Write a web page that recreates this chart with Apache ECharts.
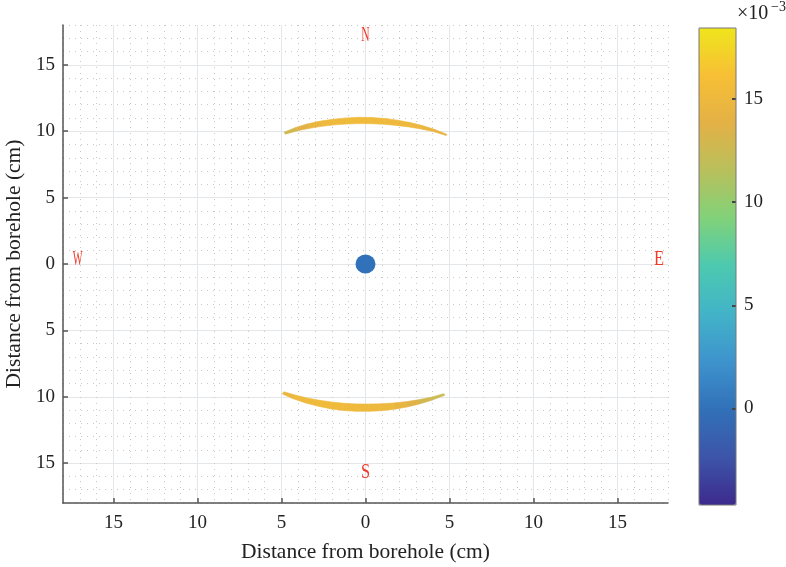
<!DOCTYPE html>
<html><head><meta charset="utf-8">
<script src="https://cdn.jsdelivr.net/npm/echarts@6/dist/echarts.min.js"></script>
<style>html,body{margin:0;padding:0;background:#fff}#c{width:786px;height:567px}</style>
</head><body><div id="c"></div>
<script>
// ---- data ----
const xTicks = [-15, -10, -5, 0, 5, 10, 15];
const yTicks = [-15, -10, -5, 0, 5, 10, 15];
const cbTicks = [0, 5, 10, 15];
const cbMin = -4.69, cbMax = 18.45;   // ×10^-3

// North crescent (polar: angle in degrees, radii in cm, strain ×10^-3)
const northAngle = [116, 112, 108, 104, 100, 96, 92, 88, 84, 80, 76, 72, 68, 63.6];
const northOuter = [11.05, 11.09, 11.1, 11.09, 11.07, 11.06, 11.05, 11.04, 11.02, 11.0, 10.98, 10.96, 10.94, 10.9];
const northInner = [10.88, 10.82, 10.75, 10.69, 10.64, 10.6, 10.58, 10.57, 10.58, 10.6, 10.64, 10.69, 10.76, 10.8];
const northValue = [12.3, 13.3, 14.3, 15.0, 15.2, 15.3, 15.3, 15.3, 15.2, 15.1, 15.0, 14.8, 14.5, 14.2];

// South crescent
const southAngle = [243.2, 247, 251, 255, 259, 263, 267, 271, 275, 279, 283, 287, 291, 295.5];
const southOuter = [10.97, 11.02, 11.06, 11.08, 11.1, 11.11, 11.11, 11.1, 11.09, 11.07, 11.05, 11.02, 10.99, 10.96];
const southInner = [10.78, 10.72, 10.67, 10.62, 10.59, 10.57, 10.55, 10.55, 10.57, 10.6, 10.64, 10.7, 10.76, 10.82];
const southValue = [14.5, 15.0, 15.2, 15.3, 15.4, 15.3, 15.2, 15.1, 15.0, 14.8, 14.2, 13.2, 12.6, 12.4];

// Borehole [x, y, value]
const borehole = [[0, 0, 0]];

// Compass letters
const compassText = ['N', 'W', 'E', 'S'];
const compassX = [0, -17.13, 17.46, 0];
const compassY = [17.24, 0.32, 0.35, -15.7];

// ---- build ----
function segments(ang, inn, out, val) {
  const d = [];
  for (let i = 0; i < ang.length - 1; i++) {
    d.push([ang[i], ang[i + 1], (val[i] + val[i + 1]) / 2, inn[i], out[i], inn[i + 1], out[i + 1]]);
  }
  return d;
}
const arcData = segments(northAngle, northInner, northOuter, northValue)
  .concat(segments(southAngle, southInner, southOuter, southValue));
const compassData = compassText.map((t, i) => [compassX[i], compassY[i], i]);

const FONT = '"Liberation Serif", "Times New Roman", serif';
const parula = ['#3d2a8c', '#3d55a8', '#3170b8', '#3e93cd', '#42b3c8', '#4cc9b0',
                '#80d27a', '#b8c05c', '#e3b146', '#f7bf35', '#efe51c'];
const squeeze = { N: 0.55, W: 0.5, E: 0.78, S: 0.78 };

const chart = echarts.init(document.getElementById('c'), null, { renderer: 'canvas' });
chart.setOption({
  animation: false,
  backgroundColor: '#fff',
  grid: [
    { left: 63, top: 25, width: 605, height: 478, outerBoundsMode: 'none', containLabel: false },
    { left: 699, top: 28, width: 37, height: 477, outerBoundsMode: 'none', containLabel: false }
  ],
  xAxis: [
    { gridIndex: 0, type: 'value', min: -18, max: 18, interval: 1,
      axisLine: { show: false }, axisTick: { show: false }, axisLabel: { show: false },
      splitLine: { show: true, lineStyle: { color: '#c8c8c8', width: 1, type: [1, 5] } } },
    { gridIndex: 0, type: 'value', min: -18, max: 18, position: 'bottom',
      axisLine: { show: true, onZero: false, lineStyle: { color: '#555', width: 1.5 } },
      axisTick: { show: true, inside: true, length: 5, customValues: xTicks, lineStyle: { color: '#555', width: 1.5 } },
      axisLabel: { customValues: xTicks, formatter: v => String(Math.abs(v)), margin: 11,
                   fontFamily: FONT, fontSize: 19, color: '#222' },
      splitLine: { show: true, lineStyle: { color: '#e3e7ea', width: 1 } },
      name: 'Distance from borehole (cm)', nameLocation: 'middle', nameGap: 38,
      nameTextStyle: { fontFamily: FONT, fontSize: 21.5, color: '#222' } },
    { gridIndex: 1, type: 'value', min: 0, max: 1, show: false }
  ],
  yAxis: [
    { gridIndex: 0, type: 'value', min: -18, max: 18, interval: 1,
      axisLine: { show: false }, axisTick: { show: false }, axisLabel: { show: false },
      splitLine: { show: true, lineStyle: { color: '#c8c8c8', width: 1, type: [1, 5] } } },
    { gridIndex: 0, type: 'value', min: -18, max: 18, position: 'left',
      axisLine: { show: true, onZero: false, lineStyle: { color: '#555', width: 1.5 } },
      axisTick: { show: true, inside: true, length: 5, customValues: yTicks, lineStyle: { color: '#555', width: 1.5 } },
      axisLabel: { customValues: yTicks, formatter: v => String(Math.abs(v)), margin: 8,
                   fontFamily: FONT, fontSize: 19, color: '#222' },
      splitLine: { show: true, lineStyle: { color: '#e3e7ea', width: 1 } },
      name: 'Distance from borehole (cm)', nameLocation: 'middle', nameGap: 36,
      nameTextStyle: { fontFamily: FONT, fontSize: 21.5, color: '#222' } },
    { gridIndex: 1, type: 'value', min: cbMin, max: cbMax, position: 'right', z: 20,
      axisLine: { show: false, onZero: false },
      axisTick: { show: true, inside: true, length: 4, customValues: cbTicks, lineStyle: { color: '#444', width: 2 } },
      axisLabel: { customValues: cbTicks, margin: 8, fontFamily: FONT, fontSize: 19, color: '#222' },
      splitLine: { show: false } }
  ],
  visualMap: {
    type: 'continuous', min: cbMin, max: cbMax, dimension: 2,
    seriesIndex: [0, 1], calculable: false, text: null, realtime: false, hoverLink: false,
    left: 699, top: 28, itemWidth: 37, itemHeight: 477, padding: 0,
    inRange: { color: parula }
  },
  graphic: [
    { type: 'rect', z: 100, shape: { x: 699, y: 28, width: 37, height: 477 },
      style: { fill: 'none', stroke: '#777', lineWidth: 1 } },
    { type: 'text', z: 100, left: 737, top: 4, style: { text: '×10', font: '20px ' + FONT, fill: '#222' } },
    { type: 'text', z: 100, left: 771, top: 0, style: { text: '−3', font: '14px ' + FONT, fill: '#222' } }
  ],
  series: [
    { type: 'custom', xAxisIndex: 1, yAxisIndex: 1, data: arcData, z: 5,
      renderItem: function (params, api) {
        const a0 = api.value(0) * Math.PI / 180, a1 = api.value(1) * Math.PI / 180;
        const ri0 = api.value(3), ro0 = api.value(4), ri1 = api.value(5), ro1 = api.value(6);
        const pts = [
          [ri0 * Math.cos(a0), ri0 * Math.sin(a0)],
          [ro0 * Math.cos(a0), ro0 * Math.sin(a0)],
          [ro1 * Math.cos(a1), ro1 * Math.sin(a1)],
          [ri1 * Math.cos(a1), ri1 * Math.sin(a1)]
        ].map(p => api.coord(p));
        const c = api.visual('color');
        return { type: 'polygon', shape: { points: pts }, style: { fill: c, stroke: c, lineWidth: 0.6 } };
      } },
    { type: 'scatter', xAxisIndex: 1, yAxisIndex: 1, data: borehole, symbol: 'circle', symbolSize: [20, 19], z: 6,
      itemStyle: { opacity: 1 } },
    { type: 'custom', xAxisIndex: 1, yAxisIndex: 1, data: compassData, z: 7,
      renderItem: function (params, api) {
        const p = api.coord([api.value(0), api.value(1)]);
        const t = compassText[api.value(2)];
        return { type: 'text', x: p[0], y: p[1], scaleX: squeeze[t],
                 style: { text: t, fill: '#ee3b2b', fontFamily: FONT, fontSize: 21, align: 'center', verticalAlign: 'middle' } };
      } }
  ]
});
</script></body></html>
